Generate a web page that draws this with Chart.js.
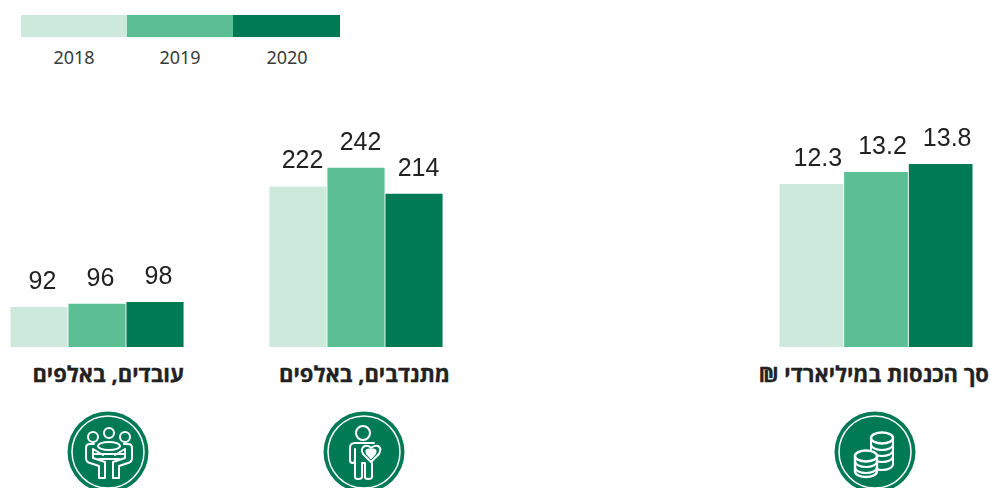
<!DOCTYPE html>
<html lang="he">
<head>
<meta charset="utf-8">
<title>chart</title>
<script src="https://cdn.jsdelivr.net/npm/chart.js@4"></script>
<style>
  html, body { margin: 0; padding: 0; background: #fff; overflow: hidden; }
  #page { position: relative; width: 990px; height: 488px; overflow: hidden; }
  .panel { position: absolute; top: 107px; height: 240px; }
  .title { position: absolute; top: 358px; font: bold 22px "Open Sans", "Liberation Sans", sans-serif; -webkit-text-stroke: 0.3px #222; color: #222; direction: rtl; white-space: nowrap; text-align: right; }
  .swatch { position: absolute; top: 15px; height: 22px; }
  .year { position: absolute; top: 45px; width: 106px; text-align: center; font: 18px "Noto Sans", sans-serif; color: #3a3a3a; }
  svg.icon { position: absolute; top: 410.5px; width: 82px; height: 82px; overflow: visible; }
  svg.icon * { fill: none; stroke: #fff; stroke-width: 2; stroke-linejoin: round; stroke-linecap: round; }
  svg.icon .badge { fill: #007a53; stroke: none; }
  svg.icon .ring { stroke-width: 1.5; }
  svg.icon .coin { fill: #007a53; stroke-width: 2.4; }
</style>
</head>
<body>
<div id="page">
  <div class="swatch" style="left:21px;width:106px;background:#cde9dc"></div>
  <div class="swatch" style="left:127px;width:106px;background:#5cbe95"></div>
  <div class="swatch" style="left:233px;width:107px;background:#007a53"></div>
  <div class="year" id="y0" style="left:21px"></div>
  <div class="year" id="y1" style="left:127px"></div>
  <div class="year" id="y2" style="left:234px"></div>

  <div class="panel" style="left:10px;width:174px"><canvas id="workers"></canvas></div>
  <div class="panel" style="left:269px;width:174px"><canvas id="volunteers"></canvas></div>
  <div class="panel" style="left:779px;width:194px"><canvas id="income"></canvas></div>

  <div class="title" id="t-workers" style="right:806px"></div>
  <div class="title" id="t-volunteers" style="right:540px"></div>
  <div class="title" id="t-income" style="right:1px"></div>

  <!-- workers icon -->
  <svg class="icon" style="left:66.7px" viewBox="-41 -41 82 82">
    <circle class="badge" r="40.5"></circle>
    <circle class="ring" r="36"></circle>
    <circle cx="-15" cy="-15" r="5"></circle>
    <circle cx="1" cy="-19" r="5"></circle>
    <circle cx="17" cy="-15" r="5"></circle>
    <ellipse cx="1" cy="-6" rx="11" ry="4"></ellipse>
    <path d="M-14 -8 H-18 Q-22 -8 -22 -4 V6 Q-22 10 -18 11 L-9 14 V26 H-3 V10 L-15 6 V-3 L-5 3"></path>
    <path d="M16 -8 H20 Q24 -8 24 -4 V6 Q24 10 20 11 L11 14 V26 H5 V10 L17 6 V-3 L7 3"></path>
    <path d="M-15 2 H17 M-9 7 H11"></path>
  </svg>
  <!-- volunteer icon -->
  <svg class="icon" style="left:323.2px" viewBox="-41 -41 82 82">
    <circle class="badge" r="40.5"></circle>
    <circle class="ring" r="36"></circle>
    <circle cx="-1" cy="-19" r="7"></circle>
    <path d="M10 -9 H-9 Q-14 -9 -14 -4 V8 Q-14 11 -11.5 11 Q-9 11 -9 8 V-3"></path>
    <path d="M-9 3 V25 Q-9 27 -6 27 Q-2 27 -2 25 V11 H1 V25 Q1 27 4 27 Q8 27 8 25 V11"></path>
    <path d="M7 10 L-1 2 Q-4 -4 1 -6 Q5 -7 7 -4 Q10 -7 14 -6 Q18 -4 15 2 Z" style="fill:#007a53"></path>
    <path d="M7 6 L3 1.5 Q1.5 -2 4 -2.5 Q6 -3 7 -1 Q8 -3 10 -2.5 Q12.5 -2 11 1.5 Z" style="fill:#fff"></path>
  </svg>
  <!-- income icon -->
  <svg class="icon" style="left:833.5px" viewBox="-41 -41 82 82">
    <circle class="badge" r="40.5"></circle>
    <circle class="ring" r="36"></circle>
    <path d="M-4 -14 V12 C-4 20 18 20 18 12 V-14"></path>
    <path d="M-4 -8 C-4 0 18 0 18 -8"></path>
    <path d="M-4 -2 C-4 6 18 6 18 -2"></path>
    <path d="M-4 4 C-4 12 18 12 18 4"></path>
    <ellipse class="coin" cx="7" cy="-14" rx="11" ry="5.5"></ellipse>
    <path class="coin" d="M-20 3 V19 C-20 27 2 27 2 19 V3 Z"></path>
    <path d="M-20 9 C-20 17 2 17 2 9"></path>
    <path d="M-20 15 C-20 23 2 23 2 15"></path>
    <ellipse class="coin" cx="-9" cy="4" rx="11" ry="5.5"></ellipse>
  </svg>
</div>
<script>
const years = ["2018", "2019", "2020"];
const incomeValues = [12.3, 13.2, 13.8];
const volunteerValues = [222, 242, 214];
const workerValues = [92, 96, 98];
const incomeTitle = "סך הכנסות במיליארדי ₪";
const volunteerTitle = "מתנדבים, באלפים";
const workerTitle = "עובדים, באלפים";
const barColors = ["#cde9dc", "#5cbe95", "#007a53"];

years.forEach(function(y, i){ document.getElementById("y" + i).textContent = y; });
document.getElementById("t-income").textContent = incomeTitle;
document.getElementById("t-volunteers").textContent = volunteerTitle;
document.getElementById("t-workers").textContent = workerTitle;

// value above each bar, shifted a bit to the right like in the original
const valueLabels = {
  id: "valueLabels",
  afterDatasetsDraw: function(chart, args, opts){
    const ctx = chart.ctx;
    const meta = chart.getDatasetMeta(0);
    ctx.save();
    ctx.font = '25px "Liberation Sans"';
    ctx.fillStyle = "#222";
    ctx.textAlign = "center";
    ctx.textBaseline = "alphabetic";
    meta.data.forEach(function(bar, i){
      const text = chart.data.datasets[0].data[i].toFixed(opts.decimals);
      ctx.fillText(text, bar.x + opts.shift, bar.y - 18);
    });
    ctx.restore();
  }
};

function makeChart(id, values, yMin, yMax, decimals, shift){
  return new Chart(document.getElementById(id), {
    type: "bar",
    data: {
      labels: years,
      datasets: [{ data: values, backgroundColor: barColors, barPercentage: 0.985, categoryPercentage: 1 }]
    },
    options: {
      responsive: true,
      maintainAspectRatio: false,
      animation: false,
      layout: { padding: 0 },
      plugins: {
        legend: { display: false },
        tooltip: { enabled: false },
        valueLabels: { decimals: decimals, shift: shift }
      },
      scales: {
        x: { display: false },
        y: { display: false, min: yMin, max: yMax }
      }
    },
    plugins: [valueLabels]
  });
}

makeChart("workers", workerValues, 44, 332, 0, 3.5);
makeChart("volunteers", volunteerValues, 50, 307, 0, 4.5);
makeChart("income", incomeValues, 0, 18.1, 1, 6.5);
</script>
</body>
</html>
